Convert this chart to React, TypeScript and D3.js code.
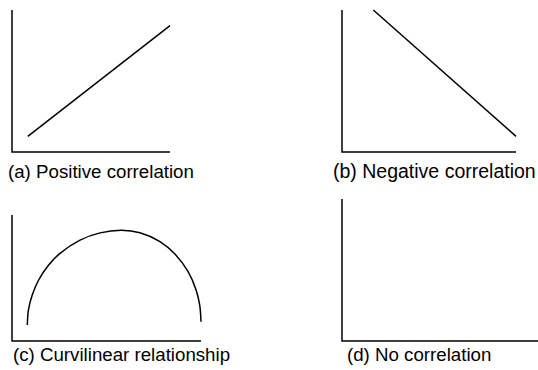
import * as d3 from 'd3';

// series values, in a 0..10 unit space for each little panel
const positiveX = [1.0, 10];
const positiveY = [1.1, 8.9];

const negativeX = [1.8, 10];
const negativeY = [10, 1.1];

const curveX = [0.81, 0.87, 1.07, 1.41, 1.94, 2.54, 3.6, 4.66, 5.8, 6.77, 7.83, 8.62, 9.31, 9.74, 9.93, 10.0];
const curveY = [1.27, 2.46, 3.65, 4.84, 6.03, 6.96, 8.01, 8.58, 8.79, 8.59, 7.89, 6.9, 5.52, 4.05, 2.86, 1.53];

const noneX: number[] = [];
const noneY: number[] = [];

const captions = [
  '(a) Positive correlation',
  '(b) Negative correlation',
  '(c) Curvilinear relationship',
  '(d) No correlation',
];

const W = 538;
const H = 370;
const FONT = '"Liberation Sans", Arial, Helvetica, sans-serif';

// frame of each panel: axis origin, extents, caption spot
const panels = [
  { x0: 12, x1: 170, y0: 152, y1: 10, xs: positiveX, ys: positiveY, curve: d3.curveLinear, tx: 8, ty: 177.5, fs: 18.7 },
  { x0: 342, x1: 516, y0: 152, y1: 10, xs: negativeX, ys: negativeY, curve: d3.curveLinear, tx: 333, ty: 177.5, fs: 19.5 },
  { x0: 12, x1: 201, y0: 341, y1: 215, xs: curveX, ys: curveY, curve: d3.curveCatmullRom.alpha(0.5), tx: 13, ty: 361, fs: 18.7 },
  { x0: 342, x1: 538, y0: 341, y1: 199, xs: noneX, ys: noneY, curve: d3.curveLinear, tx: 347, ty: 361, fs: 18.7 },
];

export default function App() {
  return (
    <svg width={W} height={H} style={{ position: 'absolute', left: 0, top: 0, background: '#fff' }}>
      {panels.map((p, i) => {
        const x = d3.scaleLinear().domain([0, 10]).range([p.x0, p.x1]);
        const y = d3.scaleLinear().domain([0, 10]).range([p.y0, p.y1]);
        const pts = p.xs.map((v, j) => [v, p.ys[j]] as [number, number]);
        const line = d3.line<[number, number]>()
          .x(d => x(d[0]))
          .y(d => y(d[1]))
          .curve(p.curve);
        return (
          <g key={i}>
            {/* axes */}
            <path
              d={`M${x(0)},${y(10)}V${y(0)}H${x(10)}`}
              fill="none"
              stroke="#000"
              strokeWidth={1.5}
            />
            {pts.length > 1 && (
              <path d={line(pts) || ''} fill="none" stroke="#000" strokeWidth={1.5} />
            )}
            <text x={p.tx} y={p.ty} fontFamily={FONT} fontSize={p.fs} fill="#000">
              {captions[i]}
            </text>
          </g>
        );
      })}
    </svg>
  );
}
